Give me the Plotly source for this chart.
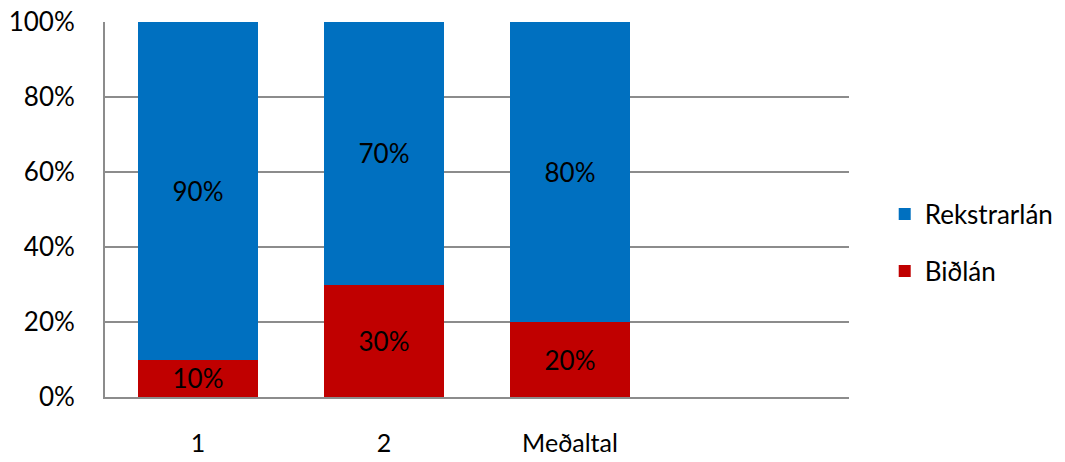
import plotly.graph_objects as go

categories = ["1", "2", "Meðaltal"]
bidlan = [10, 30, 20]
rekstrarlan = [90, 70, 80]
y_ticks = [0, 20, 40, 60, 80, 100]
y_tick_labels = ["0%", "20%", "40%", "60%", "80%", "100%"]

FONT = "Lato"
FS = 26
xpos = list(range(len(categories)))

fig = go.Figure()
fig.add_trace(go.Bar(
    x=xpos, y=bidlan, name="Biðlán", marker=dict(color="#C00000", line=dict(width=0)),
    width=0.65, text=[f"{v}%" for v in bidlan], textposition="inside",
    insidetextanchor="middle", textfont=dict(family=FONT, size=FS, color="black"),
    legend="legend2", hoverinfo="skip", showlegend=True,
))
fig.add_trace(go.Bar(
    x=xpos, y=rekstrarlan, name="Rekstrarlán", marker=dict(color="#0070C0", line=dict(width=0)),
    width=0.65, text=[f"{v}%" for v in rekstrarlan], textposition="inside",
    insidetextanchor="middle", textfont=dict(family=FONT, size=FS, color="black"),
    legend="legend", hoverinfo="skip", showlegend=True,
))

fig.update_layout(
    barmode="stack",
    showlegend=True,
    width=1065, height=462,
    margin=dict(l=105, r=216, t=22, b=65, autoexpand=False),
    paper_bgcolor="white", plot_bgcolor="white",
    font=dict(family=FONT, size=FS, color="black"),
    uniformtext=dict(minsize=FS, mode="show"),
    legend=dict(x=1.048, y=0.488, xanchor="left", yanchor="middle", visible=True,
                font=dict(family=FONT, size=FS, color="black"), bgcolor="rgba(0,0,0,0)"),
    legend2=dict(x=1.048, y=0.336, xanchor="left", yanchor="middle", visible=True,
                 font=dict(family=FONT, size=FS, color="black"), bgcolor="rgba(0,0,0,0)"),
    xaxis=dict(range=[-0.5, 3.5], tickvals=xpos, ticktext=categories, automargin=False,
               showgrid=False, zeroline=False, showline=True, linecolor="#8C8C8C",
               linewidth=2, ticks="", ticklabelstandoff=23, fixedrange=True,
               tickfont=dict(family=FONT, size=25, color="black")),
    yaxis=dict(range=[0, 100], tickvals=y_ticks, ticktext=y_tick_labels, automargin=False,
               showgrid=True, gridcolor="#8C8C8C", gridwidth=1.5, zeroline=False,
               showline=True, linecolor="#8C8C8C", linewidth=2, ticks="",
               ticklabelstandoff=23, fixedrange=True),
)

fig.write_html("out.html")
